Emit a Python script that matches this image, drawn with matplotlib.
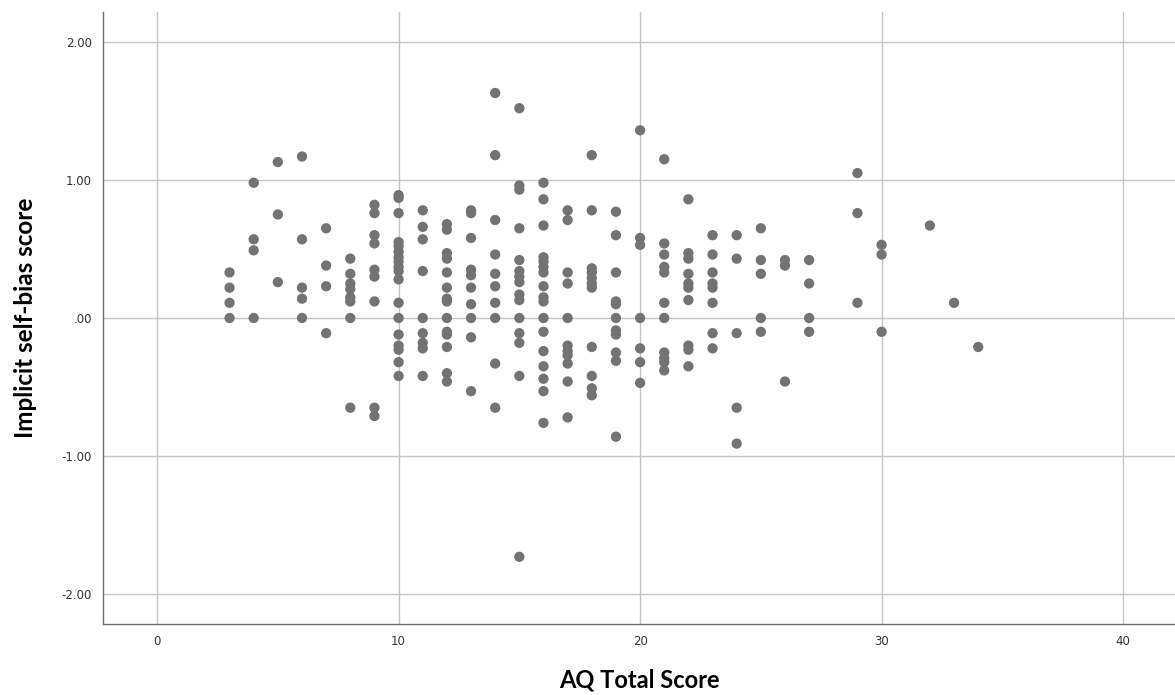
import numpy as np
import matplotlib.pyplot as plt

# AQ total score (x) and implicit self-bias score (y), read per column
aq_3 = [0.33, 0.22, 0.11, 0.00]
aq_4 = [0.98, 0.57, 0.49, 0.00]
aq_5 = [1.13, 0.75, 0.26]
aq_6 = [1.17, 0.57, 0.22, 0.14, 0.00]
aq_7 = [0.65, 0.38, 0.23, -0.11]
aq_8 = [0.43, 0.32, 0.25, 0.21, 0.15, 0.12, 0.00, -0.65]
aq_9 = [0.82, 0.76, 0.60, 0.54, 0.35, 0.30, 0.12, -0.65, -0.71]
aq_10 = [0.89, 0.87, 0.76, 0.55, 0.52, 0.48, 0.44, 0.41, 0.37, 0.34, 0.28,
         0.11, 0.00, -0.12, -0.20, -0.23, -0.32, -0.42]
aq_11 = [0.78, 0.66, 0.57, 0.34, 0.00, -0.11, -0.18, -0.22, -0.42]
aq_12 = [0.68, 0.64, 0.47, 0.43, 0.33, 0.22, 0.14, 0.12, 0.00, -0.10, -0.12,
         -0.21, -0.40, -0.46]
aq_13 = [0.78, 0.76, 0.58, 0.35, 0.31, 0.22, 0.10, 0.00, -0.14, -0.53]
aq_14 = [1.63, 1.18, 0.71, 0.46, 0.32, 0.23, 0.11, 0.00, -0.33, -0.65]
aq_15 = [1.52, 0.96, 0.93, 0.65, 0.42, 0.34, 0.30, 0.26, 0.17, 0.13, 0.00,
         -0.11, -0.18, -0.42, -1.73]
aq_16 = [0.98, 0.86, 0.67, 0.44, 0.41, 0.37, 0.33, 0.23, 0.15, 0.12, 0.00,
         -0.10, -0.24, -0.35, -0.44, -0.53, -0.76]
aq_17 = [0.78, 0.71, 0.33, 0.25, 0.00, -0.20, -0.24, -0.27, -0.33, -0.46, -0.72]
aq_18 = [1.18, 0.78, 0.36, 0.33, 0.29, 0.25, 0.22, -0.21, -0.42, -0.51, -0.56]
aq_19 = [0.77, 0.60, 0.33, 0.12, 0.10, 0.00, -0.09, -0.12, -0.25, -0.31, -0.86]
aq_20 = [1.36, 0.58, 0.53, 0.00, -0.22, -0.32, -0.47]
aq_21 = [1.15, 0.54, 0.46, 0.37, 0.33, 0.11, 0.00, -0.25, -0.29, -0.32, -0.38]
aq_22 = [0.86, 0.47, 0.43, 0.32, 0.25, 0.22, 0.13, -0.20, -0.23, -0.35]
aq_23 = [0.60, 0.46, 0.33, 0.25, 0.22, 0.11, -0.11, -0.22]
aq_24 = [0.60, 0.43, -0.11, -0.65, -0.91]
aq_25 = [0.65, 0.42, 0.32, 0.00, -0.10]
aq_26 = [0.42, 0.38, -0.46]
aq_27 = [0.42, 0.25, 0.00, -0.10]
aq_29 = [1.05, 0.76, 0.11]
aq_30 = [0.53, 0.46, -0.10]
aq_32 = [0.67]
aq_33 = [0.11]
aq_34 = [-0.21]

columns = {3: aq_3, 4: aq_4, 5: aq_5, 6: aq_6, 7: aq_7, 8: aq_8, 9: aq_9,
           10: aq_10, 11: aq_11, 12: aq_12, 13: aq_13, 14: aq_14, 15: aq_15,
           16: aq_16, 17: aq_17, 18: aq_18, 19: aq_19, 20: aq_20, 21: aq_21,
           22: aq_22, 23: aq_23, 24: aq_24, 25: aq_25, 26: aq_26, 27: aq_27,
           29: aq_29, 30: aq_30, 32: aq_32, 33: aq_33, 34: aq_34}

x = []
y = []
for score, vals in columns.items():
    x += [score] * len(vals)
    y += vals

fig = plt.figure(figsize=(11.75, 6.95), dpi=100)
ax = fig.add_axes([103 / 1175, 71 / 695, 1 - 103 / 1175, (624 - 12) / 695])

ax.scatter(x, y, s=55, color="#737373", edgecolors="none", zorder=3)

ax.set_xlim(-2.24, 42.15)
ax.set_ylim(-2.217, 2.217)
ax.set_xticks([0, 10, 20, 30, 40])
ax.set_yticks([2, 1, 0, -1, -2])
ax.set_yticklabels(["2.00", "1.00", ".00", "-1.00", "-2.00"])

ax.grid(True, color="#c4c4c4", linewidth=1.0, zorder=0)
for side in ["top", "right"]:
    ax.spines[side].set_visible(False)
for side in ["left", "bottom"]:
    ax.spines[side].set_color("#6e6e6e")
    ax.spines[side].set_linewidth(1.0)

ax.tick_params(length=0, labelsize=8.5, labelcolor="#333333", pad=8)

ax.set_xlabel("AQ Total Score", fontsize=17, fontweight="bold", labelpad=15,
              family="Lato")
ax.set_ylabel("Implicit self-bias score", fontsize=17.5, fontweight="bold",
              labelpad=18, family="Lato")

fig.savefig("out.png", dpi=100)
